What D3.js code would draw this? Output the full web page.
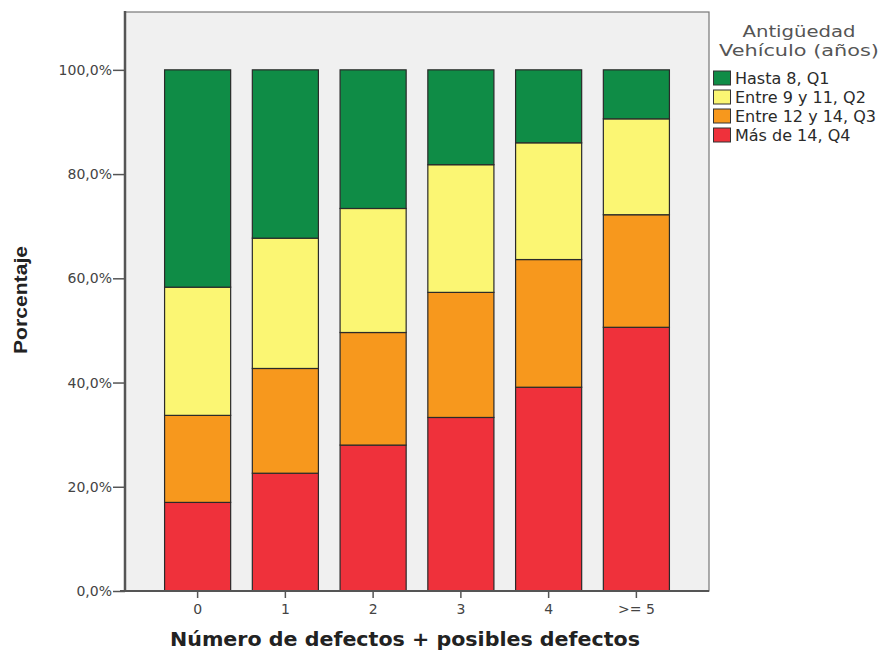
<!DOCTYPE html>
<html><head><meta charset="utf-8">
<script src="https://cdn.jsdelivr.net/npm/d3@7"></script>
<style>body{margin:0;background:#fff}</style>
</head><body>
<svg id="chart" width="884" height="653"></svg>
<script>
const categories = ["0","1","2","3","4",">= 5"];
const seriesNames = ["Más de 14, Q4","Entre 12 y 14, Q3","Entre 9 y 11, Q2","Hasta 8, Q1"];
const q4 = [17.0, 22.6, 28.0, 33.3, 39.1, 50.6];
const q3 = [16.7, 20.1, 21.6, 24.0, 24.5, 21.6];
const q2 = [24.6, 25.0, 23.8, 24.5, 22.4, 18.4];
const q1 = [41.7, 32.3, 26.6, 18.2, 14.0, 9.4];
const colors = ["#ef313b","#f7981d","#fbf673","#0f8c46"];
const yTicks = [0,20,40,60,80,100];
const legendOrder = [3,2,1,0];

const svg = d3.select("#chart");
const L=125, R=709, T=12, B=591;
const x = d3.scaleBand().domain(categories).range([L,R]).paddingInner(0.247).paddingOuter(0.451);
const y = d3.scaleLinear().domain([0,111.1]).range([B,T]);

const rows = categories.map((c,i)=>({cat:c, s0:q4[i], s1:q3[i], s2:q2[i], s3:q1[i]}));
const stack = d3.stack().keys(["s0","s1","s2","s3"])(rows);

svg.append("rect").attr("x",L).attr("y",T).attr("width",R-L).attr("height",B-T)
  .attr("fill","#f0f0f0").attr("stroke","#777").attr("stroke-width",1.2);

stack.forEach((layer,k)=>{
  svg.append("g").selectAll("rect").data(layer).join("rect")
    .attr("x",d=>x(d.data.cat)).attr("width",x.bandwidth())
    .attr("y",d=>y(d[1])).attr("height",d=>y(d[0])-y(d[1]))
    .attr("fill",colors[k]).attr("stroke","#2a2a2a").attr("stroke-width",1.2);
});

const F = "DejaVu Sans, Verdana, sans-serif";
// y axis
const ya = svg.append("g").attr("transform",`translate(${L},0)`)
  .call(d3.axisLeft(y).tickValues(yTicks).tickSize(12).tickFormat(d=>d3.format(".1f")(d).replace(".",",")+"%"));
ya.select(".domain").remove();
ya.selectAll(".tick line").attr("stroke","#555").attr("stroke-width",1.5);
ya.selectAll(".tick text").attr("fill","#444").attr("font-family",F).attr("font-size",14).attr("dx",2);
svg.append("line").attr("x1",L).attr("x2",L).attr("y1",T-1).attr("y2",B+1).attr("stroke","#555").attr("stroke-width",2.5);

// x axis
const xa = svg.append("g").attr("transform",`translate(0,${B})`)
  .call(d3.axisBottom(x).tickSize(7).tickPadding(6));
xa.select(".domain").remove();
xa.selectAll(".tick line").attr("stroke","#555").attr("stroke-width",1.5);
xa.selectAll(".tick text").attr("fill","#444").attr("font-family",F).attr("font-size",14);
svg.append("line").attr("x1",L-5).attr("x2",R).attr("y1",B).attr("y2",B).attr("stroke","#555").attr("stroke-width",2);

// axis titles
svg.append("text").attr("x",405).attr("y",646).attr("text-anchor","middle")
  .attr("font-family",F).attr("font-weight","bold").attr("font-size",19).attr("fill","#222")
  .attr("textLength",470).attr("lengthAdjust","spacingAndGlyphs")
  .text("Número de defectos + posibles defectos");
svg.append("text").attr("transform","translate(27,300) rotate(-90)").attr("text-anchor","middle")
  .attr("font-family","Liberation Sans, Arial, sans-serif").attr("font-weight","bold").attr("font-size",18).attr("fill","#222")
  .attr("textLength",108).attr("lengthAdjust","spacingAndGlyphs")
  .text("Porcentaje");

// legend
const lg = svg.append("g");
lg.append("text").attr("x",799).attr("y",37).attr("text-anchor","middle").attr("font-family",F).attr("font-size",16.5).attr("fill","#555")
  .attr("textLength",113).attr("lengthAdjust","spacingAndGlyphs").text("Antigüedad");
lg.append("text").attr("x",799).attr("y",56).attr("text-anchor","middle").attr("font-family",F).attr("font-size",16.5).attr("fill","#555")
  .attr("textLength",160).attr("lengthAdjust","spacingAndGlyphs").text("Vehículo (años)");
legendOrder.forEach((k,i)=>{
  const yy = 71 + i*19;
  lg.append("rect").attr("x",713.5).attr("y",yy).attr("width",17).attr("height",14).attr("fill",colors[k]).attr("stroke","#333").attr("stroke-width",1);
  lg.append("text").attr("x",735).attr("y",yy+12.5).attr("font-family",F).attr("font-size",16).attr("fill","#2a2a2a").text(seriesNames[k]);
});
</script>
</body></html>
